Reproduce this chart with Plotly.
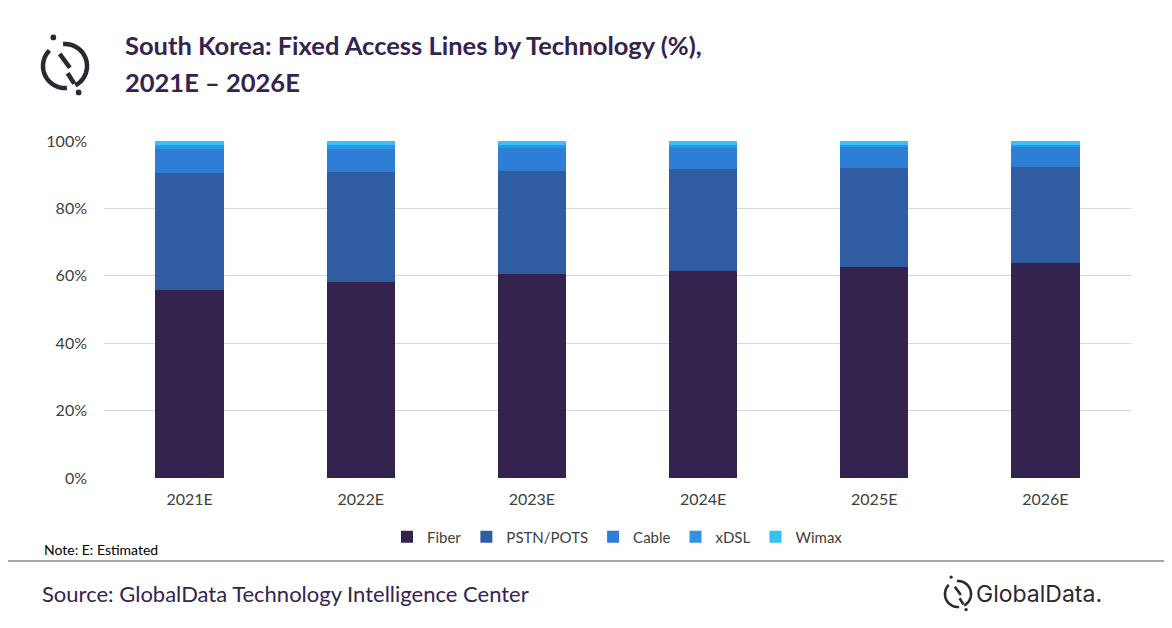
import numpy as np
import plotly.graph_objects as go

# data (share of fixed access lines, %)
years = ["2021E", "2022E", "2023E", "2024E", "2025E", "2026E"]
fiber = [55.9, 58.3, 60.4, 61.5, 62.7, 63.9]
pstn_pots = [34.5, 32.6, 30.8, 30.3, 29.4, 28.5]
cable = [7.3, 6.8, 6.8, 6.2, 6.2, 5.9]
xdsl = [1.2, 1.2, 0.9, 0.9, 0.6, 0.6]
wimax = [1.1, 1.1, 1.1, 1.1, 1.1, 1.1]
y_ticks = [0, 20, 40, 60, 80, 100]
y_ticktext = ["0%", "20%", "40%", "60%", "80%", "100%"]

series = [
    ("Fiber", fiber, "#35234F"),
    ("PSTN/POTS", pstn_pots, "#305DA2"),
    ("Cable", cable, "#2E7DD7"),
    ("xDSL", xdsl, "#2F93E6"),
    ("Wimax", wimax, "#35C3F7"),
]

# page puts the figure 8px in from the window corner
OFF = 8
W, H = 1172 - OFF, 628 - OFF
# plot area, in window pixels
L, R, T, B = 104, 1131, 141, 478


def px(x):
    return (x - L) / (R - L)


def py(y):
    return (B - y) / (B - T)


fig = go.Figure()
for name, vals, col in series:
    fig.add_trace(go.Bar(x=years, y=vals, name=name, marker_color=col,
                         marker_line_width=0))


def logo_shapes(cx, cy, r, w, col):
    # broken ring + two offset strokes + two dots, drawn in pixel space
    shp = []
    for a0, a1 in [(135, 275), (-62, 95)]:
        a = np.radians(np.linspace(a0, a1, 40))
        xs = cx + r * np.cos(a)
        ys = cy - r * np.sin(a)
        path = "M " + " L ".join(f"{px(x):.5f},{py(y):.5f}" for x, y in zip(xs, ys))
        shp.append(dict(type="path", path=path, xref="paper", yref="paper",
                        line=dict(color=col, width=w)))
    segs = [((-0.24, -0.55), (0.22, 0.08)), ((0.12, 0.33), (0.42, 0.80))]
    for (x0, y0), (x1, y1) in segs:
        shp.append(dict(type="line", xref="paper", yref="paper",
                        x0=px(cx + x0 * r), y0=py(cy + y0 * r),
                        x1=px(cx + x1 * r), y1=py(cy + y1 * r),
                        line=dict(color=col, width=w)))
    d = r * 0.13
    for dx, dy in [(-0.53, -1.3), (0.62, 1.2)]:
        x, y = cx + dx * r, cy + dy * r
        shp.append(dict(type="circle", xref="paper", yref="paper",
                        x0=px(x - d), x1=px(x + d), y0=py(y - d), y1=py(y + d),
                        fillcolor=col, line=dict(width=0)))
    return shp


shapes = []
shapes += logo_shapes(65, 66, 22, 4.5, "#2B2833")
shapes += logo_shapes(958, 594, 13, 2.6, "#2B2833")
# footer separator
shapes.append(dict(type="line", xref="paper", yref="paper",
                   x0=px(0), x1=px(1172), y0=py(561), y1=py(561),
                   line=dict(color="#A6A6A6", width=2)))

title_font = dict(family="Lato", size=25.5, color="#35234F")
annotations = [
    dict(text="<b>South Korea: Fixed Access Lines by Technology (%),</b>",
         x=px(123), y=py(45), xanchor="left", yanchor="middle", font=title_font),
    dict(text="<b>2021E – 2026E</b>",
         x=px(123), y=py(82), xanchor="left", yanchor="middle", font=title_font),
    dict(text="Note: E: Estimated", x=px(42), y=py(549), xanchor="left",
         yanchor="middle", font=dict(family="Lato", size=14, color="#000000")),
    dict(text="Source: GlobalData Technology Intelligence Center", x=px(40),
         y=py(593), xanchor="left", yanchor="middle",
         font=dict(family="Lato", size=22, color="#35234F")),
    dict(text="GlobalData.", x=px(974), y=py(594), xanchor="left",
         yanchor="middle",
         font=dict(family="Inter", size=23, color="#2B2833")),
]
for a in annotations:
    a.update(xref="paper", yref="paper", showarrow=False)

fig.update_layout(
    barmode="stack",
    bargap=0.6,
    width=W, height=H,
    margin=dict(l=L - OFF, r=W - (R - OFF), t=T - OFF, b=H - (B - OFF), pad=0),
    paper_bgcolor="white",
    plot_bgcolor="white",
    font=dict(family="Lato", size=16, color="#404040"),
    showlegend=True,
    legend=dict(orientation="h", x=0.5, xanchor="center", y=py(537),
                yanchor="middle", traceorder="normal", itemwidth=30,
                font=dict(family="Lato", size=15, color="#404040")),
    shapes=shapes,
    annotations=annotations,
)
fig.update_xaxes(showline=False, ticks="", tickfont=dict(size=16),
                 ticklabelstandoff=10)
fig.update_yaxes(range=[0, 100], tickvals=y_ticks, ticktext=y_ticktext,
                 showgrid=True, gridcolor="#D9D9D9",
                 gridwidth=1, zeroline=False, showline=False, ticks="",
                 tickfont=dict(size=16), ticklabelstandoff=16)

fig.write_html("out.html")
